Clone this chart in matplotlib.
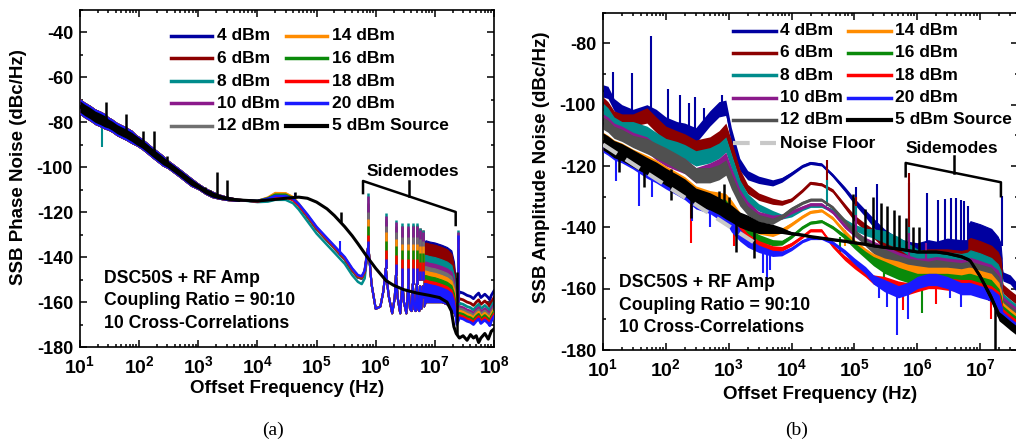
import matplotlib
matplotlib.use('Agg')
import matplotlib.pyplot as plt
from matplotlib.lines import Line2D
from matplotlib.ticker import LogLocator, NullFormatter, MultipleLocator

plt.rcParams['font.family'] = ['Liberation Sans', 'DejaVu Sans']
plt.rcParams['font.weight'] = 'bold'
plt.rcParams['axes.unicode_minus'] = False
plt.rcParams['mathtext.fontset'] = 'custom'
plt.rcParams['mathtext.rm'] = 'Liberation Sans:bold'
plt.rcParams['mathtext.it'] = 'Liberation Sans:bold'
plt.rcParams['mathtext.bf'] = 'Liberation Sans:bold'

# ---------------- series ----------------
labels = ['4 dBm', '6 dBm', '8 dBm', '10 dBm', '12 dBm', '14 dBm', '16 dBm', '18 dBm', '20 dBm']
colors_a = ['#0000a0', '#8c0000', '#008c8c', '#8b1a8b', '#707070', '#ff8c00', '#0a8a0a', '#ff0000', '#1a1aff']
colors_b = ['#0000a0', '#8c0000', '#008c8c', '#8b1a8b', '#505050', '#ff8c00', '#0a8a0a', '#ff0000', '#1a1aff']

# ---------------- (a) phase noise ----------------
# low offsets: all amplifier powers overlap
pn_low_f = [10, 12, 15, 18, 22, 26, 30, 35, 42, 50, 60, 75, 90, 110, 130, 160, 200, 250, 300, 380,
            480, 600, 750, 1000, 1300, 1700, 2200, 3000, 4000, 5000]
pn_low = [-73, -74.5, -76, -77.5, -78.5, -79.5, -80.5, -81.5, -83, -84, -85, -86.5, -88, -89.5, -91,
          -93, -95, -97, -98.5, -100.5, -102.5, -104.5, -106.5, -108.5, -110.5, -112, -113, -113.8,
          -114.3, -114.6]
pn_low_spread = [3.5, 3.5, 3.5, 3.5, 3.5, 3.5, 3, 3, 3, 3, 3, 3, 2.5, 2.5, 2.5, 2.5, 2.5, 2.5, 2, 2,
                 2, 2, 2, 1.5, 1.5, 1.5, 1.2, 1, 0.8, 0.6]
src_low_spread = [2.5, 2.5, 2.5, 2.5, 2.5, 2.5, 2, 2, 2, 2, 2, 2, 2, 1.8, 1.8, 1.8, 1.8, 1.8, 1.5, 1.5,
                  1.5, 1.5, 1.5, 1.2, 1.2, 1.2, 1, 0.8, 0.7, 0.6]

pn_mid_f = [5e3, 1e4, 1.5e4, 2e4, 3e4, 4e4, 5e4, 7e4, 1e5, 1.5e5, 2e5, 3e5, 4e5, 5e5, 5.8e5, 6.5e5, 7e5]
pn_mid = [
    [-114.6, -115.2, -114.5, -113.5, -113.2, -114.5, -117, -122, -127.5, -132.5, -136, -141, -146, -149, -149.5, -147, -141],
    [-114.6, -115.2, -114.3, -113, -113, -114.5, -117, -122, -127.5, -132.5, -136, -141, -146, -149, -149.5, -147, -141],
    [-114.6, -115.5, -115.3, -114.5, -114.5, -116, -118.8, -124, -129.5, -134.5, -138, -143, -148, -151, -152, -149.5, -142],
    [-114.6, -115.2, -114.2, -112.5, -112.3, -114, -116.8, -122, -127.5, -132.5, -136, -141, -146, -149, -149.5, -147, -141],
    [-114.6, -115, -113.7, -111.8, -111.8, -113.5, -116.5, -121.5, -127, -132, -135.5, -140.5, -145.5, -148.5, -149, -146.5, -140.5],
    [-114.6, -115, -113.5, -111.5, -111.6, -113.3, -116.3, -121.3, -126.8, -131.8, -135.3, -140.3, -145.3, -148.3, -148.8, -146.3, -140.3],
    [-114.6, -115, -113.8, -112.2, -112.2, -113.8, -116.7, -121.8, -127.3, -132.3, -135.8, -140.8, -145.8, -148.8, -149.3, -146.8, -140.8],
    [-114.6, -115.2, -114.3, -113.2, -113.2, -114.6, -117, -121.5, -127, -132, -135.5, -140.5, -145.5, -148.5, -149, -146.5, -140.5],
    [-114.6, -115, -114, -112.8, -112.8, -114, -116.3, -121, -126.5, -131.5, -135, -140, -145, -148, -148.5, -146, -140],
]

# between the sidemodes
pn_valley_f = [7.0e5, 7.5e5, 8.5e5, 1.0e6, 1.2e6, 1.35e6, 1.48e6, 1.65e6, 1.9e6, 2.1e6, 2.2e6, 2.35e6,
               2.6e6, 2.82e6, 3.0e6, 3.3e6, 3.56e6, 3.8e6, 4.05e6, 4.23e6, 4.5e6, 4.75e6, 4.94e6,
               5.2e6, 5.45e6, 5.6e6, 5.9e6, 6.24e6, 6.5e6]
pn_valley = [-140, -135, -152, -163, -162, -155, -145, -157, -165, -158, -148, -158, -165, -152, -160,
             -165, -152, -163, -164, -152, -163, -164, -152, -163, -164, -153, -163, -153, -158]

# sidemode spurs
sm_f = [7.5e5, 1.48e6, 2.2e6, 2.82e6, 3.56e6, 4.23e6, 4.94e6, 5.6e6, 6.24e6, 2.45e7]
sm_base = [-135, -145, -148, -152, -152, -152, -152, -150, -150, -160]
sm_peak = [
    [-117, -124, -127, -127, -128, -126.5, -126.5, -128, -129, -132],
    [-116, -123, -126, -126, -127, -125.5, -125.5, -127, -128, -131],
    [-111.6, -120.5, -123.5, -125, -125, -125, -125, -127, -128, -128],
    [-113, -121.5, -124.5, -126, -126, -126, -126, -128, -129, -129],
    [-120, -126, -129, -131, -131, -131, -131, -132, -133, -133],
    [-123, -129, -132, -134, -134, -134, -134, -135, -135, -134],
    [-126, -133, -135, -137, -137, -137, -137, -138, -138, -136],
    [-130, -137, -139, -141, -141, -141, -141, -142, -142, -132],
    [-133, -141, -143, -145, -145, -145, -145, -146, -146, -130],
]

# dense spur comb (appears as a band)
pn_band_f = [6.5e6, 7e6, 8e6, 1e7, 1.3e7, 1.6e7, 1.9e7, 2.1e7, 2.25e7]
pn_band_floor = [-162, -160, -160, -160, -160, -161, -163, -165, -167]
pn_band_top = [
    [-133, -132.5, -133, -133.5, -134.5, -135.5, -137, -142, -150],
    [-134, -133.5, -134, -134.5, -135.5, -136.5, -138.5, -144, -152],
    [-139, -139, -139.5, -140, -141, -142, -143.5, -148, -155],
    [-142, -142, -142.5, -143, -144, -145, -146.5, -150.5, -157],
    [-144, -144, -144.5, -145, -146, -147, -148.5, -152.5, -158],
    [-146, -146, -146.5, -147, -148, -149, -150.5, -154, -159],
    [-148, -148, -148.5, -149, -150, -151, -152.5, -156, -161],
    [-150, -150, -150.5, -151, -152, -153, -154.5, -158, -163],
    [-151.5, -151.5, -152, -152.5, -153.5, -154.5, -156, -159.5, -165],
]

pn_tail_f = [2.25e7, 2.35e7, 2.6e7, 3e7, 3.5e7, 4e7, 4.5e7, 5e7, 5.5e7, 6e7, 7e7, 8e7, 8.5e7, 9e7, 1e8]
pn_tail = [
    [-150, -160, -155.5, -156, -157, -157.5, -158.5, -157, -156, -158, -156.5, -158, -159, -157, -155],
    [-152, -162, -158.5, -159, -160, -160.5, -161.5, -160, -159, -161, -159.5, -161, -162, -160, -158],
    [-155, -164, -160.5, -161, -162, -162.5, -163.5, -162, -161, -163, -161.5, -163, -164, -162, -160],
    [-157, -165, -162, -162.5, -163.5, -164, -165, -163.5, -162.5, -164.5, -163, -164.5, -165.5, -163.5, -161.5],
    [-158, -166, -163, -163.5, -164.5, -165, -166, -164.5, -163.5, -165.5, -164, -165.5, -166.5, -164.5, -162.5],
    [-159, -167, -164, -164.5, -165.5, -166, -167, -165.5, -164.5, -166.5, -165, -166.5, -167.5, -165.5, -163.5],
    [-161, -168, -165, -165.5, -166.5, -167, -168, -166.5, -165.5, -167.5, -166, -167.5, -168.5, -166.5, -164.5],
    [-163, -169, -166, -166.5, -167.5, -168, -169, -167.5, -166.5, -168.5, -167, -168.5, -169.5, -167.5, -165.5],
    [-165, -170, -167, -167.5, -168.5, -169, -170, -168.5, -167.5, -169.5, -168, -169.5, -170.5, -168.5, -166.5],
]

# extra spurs of single traces (a)
pn20_spk_f = [4.3e4, 2.5e5]
pn20_spk_lo = [-114, -139]
pn20_spk_hi = [-111.6, -133]
pn8_spk_f = [24]
pn8_spk_lo = [-91]
pn8_spk_hi = [-78]

# 5 dBm source, phase noise
src_pn_f = [5e3, 1e4, 2e4, 3e4, 5e4, 7e4, 1e5, 1.5e5, 2e5, 3e5, 4e5, 5e5, 7e5, 1e6, 1.5e6, 2e6, 3e6,
            5e6, 8e6, 1.2e7, 1.6e7, 1.9e7, 2.1e7, 2.3e7, 2.6e7, 3e7, 3.5e7, 4e7, 4.5e7, 5e7, 5.5e7,
            6e7, 7e7, 8e7, 9e7, 1e8]
src_pn = [-114.6, -115, -114.3, -113.8, -113.3, -113.8, -115.5, -118.5, -121.5, -126.5, -130.5, -134,
          -139.5, -145, -150.5, -152.5, -154.5, -156, -157, -158, -160, -164, -171, -174, -176, -175,
          -177, -174.5, -176, -175, -178, -176, -174, -176.5, -173, -172]
src_pn_spk_f = [28, 60, 115, 178, 300, 1.3e3, 1.6e3, 2.1e3, 3.1e3, 4.3e4, 2.56e5, 2.4e7]
src_pn_spk_lo = [-80, -85, -89.5, -94, -98.5, -110.5, -112, -112.8, -113.8, -113.3, -124.5, -174]
src_pn_spk_hi = [-71, -76.5, -84, -84, -95, -109, -110, -102, -105.7, -110.9, -120, -146.5]

# ---------------- (b) amplitude noise ----------------
am_f = [10, 12, 15, 20, 30, 50, 70, 100, 150, 200,
        300, 500, 700, 900, 1100, 1500, 2000, 3000, 5000, 7000,
        1e4, 1.5e4, 2e4, 3e4, 4.5e4, 7e4, 1e5, 1.5e5, 2e5, 3e5,
        5e5, 7e5, 1e6, 1.5e6, 2e6, 3e6, 5e6, 6.5e6, 7e6, 1e7,
        1.5e7, 2e7, 2.3e7, 3e7, 4e7]
am_spread = [2, 2, 2, 2, 2, 2.5, 2.5, 2.5, 2.5, 2.5,
             2.5, 2.5, 2.5, 2.5, 2.5, 2, 1.5, 1.2, 1, 0.8,
             0.6, 0.5, 0.5, 0.5, 0.6, 0.8, 1, 1.2, 1.5, 2,
             2, 2, 2, 2, 2, 2, 2, 2, 2, 2,
             2, 2, 1.5, 1.5, 1.5]
src_am_spread = [2.8, 2.8, 2.8, 2.8, 2.8, 2.8, 2.8, 2.8, 2.8, 2.8,
                 2.8, 2.8, 2.8, 2.8, 2.8, 2.5, 2.5, 2, 1.5, 1,
                 0.5, 0.4, 0.4, 0.4, 0.4, 0.4, 0.4, 0.4, 0.4, 0.4,
                 0.4, 0.4, 0.4, 0.4, 0.4, 0.4, 0.5, 0.5, 0.5, 0.8,
                 1.2, 1.5, 1.5, 1.5, 1.5]
am = [
    [-95.5, -96, -100, -102, -103.5, -102.5, -104, -106.5, -108, -108.5,
     -110, -104.5, -101.5, -101, -110, -119.5, -123, -124.5, -125.5, -124.5,
     -122.5, -120, -119, -119.5, -123, -127.5, -131.5, -135.5, -138.5, -142.5,
     -145.5, -146.5, -147, -146, -146.5, -145.5, -146, -146, -141, -141.5,
     -142.5, -146, -156, -157, -160],
    [-99.5, -101, -104, -105, -105, -103.5, -106.5, -109.5, -111, -112,
     -114, -113, -111, -108.5, -114, -123, -127.5, -130, -131.5, -132,
     -131, -128, -125.5, -126, -128, -133, -137, -140, -142, -145,
     -148, -149, -149.5, -149, -149, -149, -149.5, -149, -146, -147,
     -148, -151, -160, -162, -164],
    [-101.5, -103, -106, -107.5, -107.5, -109.5, -111.5, -113.5, -114.5, -115.5,
     -117.5, -116.5, -115, -113, -118.5, -126.5, -130.5, -133.5, -135.5, -136.5,
     -136, -134, -133, -133, -134.5, -138, -140, -141.5, -142, -143,
     -145, -147, -149, -150, -150, -150, -150.5, -150, -150, -151,
     -152, -155, -163, -165, -167],
    [-105, -106, -108, -109, -111, -113, -115.5, -117.5, -119, -120,
     -123, -121.5, -120, -118, -123, -129.5, -133, -136, -137, -136.5,
     -135, -133.5, -132.5, -132.5, -135, -139.5, -142, -144.5, -146, -148,
     -150, -151, -152, -152, -151.5, -152, -152.5, -152, -152, -153,
     -154, -157, -164, -166, -168],
    [-106, -107, -109, -110, -112, -113.5, -115, -116.5, -118.5, -120,
     -123, -123, -122, -120.5, -125, -131, -134.5, -137, -138, -136.5,
     -134, -132, -131, -131, -133.5, -138, -141.5, -145, -147, -149,
     -151, -152, -152.5, -153, -152.5, -153, -153.5, -153, -153, -154,
     -155, -158, -165, -167, -169],
    [-111, -112, -113.5, -114.5, -116.5, -119, -120.5, -122.5, -124.5, -126,
     -129, -130.5, -131, -131.5, -133.5, -137, -139, -141, -142, -141,
     -139, -136.5, -135, -134.5, -137, -141.5, -145, -148, -150, -152,
     -153, -154, -154.5, -155, -155, -155, -155.5, -155, -155, -156,
     -157, -160, -166, -168, -170],
    [-112.5, -113.5, -115, -116, -118, -120.5, -122, -124, -126, -127.5,
     -130.5, -132, -133, -133.5, -136, -139, -141.5, -143.5, -145, -145,
     -143, -140, -138.5, -138, -140, -143, -146, -149, -151, -153,
     -155, -156, -157, -157, -157, -157, -157.5, -157, -157, -158,
     -159, -162, -167, -169, -171],
    [-113, -114, -115.5, -116.5, -118.5, -121, -122.5, -124.5, -126.5, -128,
     -131, -132.5, -134, -135, -137.5, -141, -143.5, -145.5, -147, -147,
     -145.5, -143, -141, -141, -146, -150, -152.5, -155, -157, -158,
     -159.5, -160, -159, -158, -158, -158.5, -159, -159, -159, -160,
     -161, -163, -168, -170, -172],
    [-113.5, -114.5, -116, -117, -119, -121.5, -123, -125, -127, -128.5,
     -131.5, -133, -135, -136, -139, -142.5, -145, -147, -148.5, -148.5,
     -147, -144.5, -143.5, -143.5, -145, -148, -151, -154, -157, -159,
     -161, -160, -158, -157, -157, -158, -160, -160, -160, -161,
     -162, -164, -169, -171, -173],
]
src_am = [-112, -113, -114.5, -115.5, -117.5, -120, -121.5, -123.5, -125.5, -127,
          -130, -131.5, -133, -134.5, -135.5, -137.5, -138.5, -140, -140.5, -141,
          -142, -142.5, -143, -143.5, -144, -144.5, -145, -145.5, -146, -146.5,
          -147, -147.5, -148, -148, -148, -148.5, -149.5, -150.5, -151, -156,
          -163, -169, -170, -172, -174]

am_band_f = [6.5e6, 7e6, 1e7, 1.5e7, 1.9e7, 2.1e7, 2.2e7]
am_band_floor = [-158, -160, -162, -164, -166, -168, -170]
am_band_top = [
    [-139, -138, -139, -140.5, -143, -145, -150],
    [-144, -143.5, -144.5, -146, -148, -150, -154],
    [-148, -147.5, -148.5, -150, -152, -154, -157],
    [-150.5, -150, -151, -152.5, -154, -156, -159],
    [-152.5, -152.5, -153.5, -155, -156.5, -158, -160],
    [-155, -154.5, -155.5, -157, -158.5, -160, -162],
    [-157, -156.5, -157.5, -159, -160.5, -162, -164],
    [-158.5, -158, -159, -160.5, -162, -163.5, -165],
    [-160, -159.5, -160.5, -162, -163.5, -165, -166],
]

# spurs and dips of single traces (b)
am4_spk_f = [14.6, 29, 58, 110, 168, 236, 291, 400, 770, 1.05e5, 2.3e5, 7.3e5, 1.41e6, 2.1e6, 2.8e6,
             3.5e6, 4.2e6, 4.9e6, 5.6e6, 6.3e6, 2.24e7]
am4_spk_lo = [-100, -103, -102, -106, -108, -109, -109, -107, -101, -131, -140, -146, -146, -146, -146,
              -146, -146, -146, -146, -146, -146]
am4_spk_hi = [-89.2, -89.6, -77.5, -95, -96.7, -99.3, -97.5, -101, -97, -127, -126, -125.5, -128.8,
              -131, -130.9, -130.5, -130.5, -131, -131.5, -133, -129.8]
am6_spk_f = [3.6e4, 1.07e5, 7.3e5]
am6_spk_lo = [-126, -137, -149]
am6_spk_hi = [-118, -130, -122.2]
am8_spk_f = [3.7e4, 1.05e5, 2e5, 7.3e5]
am8_spk_lo = [-133, -140, -142, -147]
am8_spk_hi = [-124.5, -133, -137, -140]
am10_spk_f = [1.05e5, 7.3e5, 1.4e6]
am10_spk_lo = [-142, -151, -152]
am10_spk_hi = [-136, -142, -145]
am14_spk_f = [7e4, 3e5, 2.5e6]
am14_spk_lo = [-146, -158, -160]
am14_spk_hi = [-141, -152, -155]
am16_spk_f = [6e4, 3e5, 1.2e6]
am16_spk_lo = [-148, -160, -168]
am16_spk_hi = [-143, -153, -157]
am18_spk_f = [250, 1.2e3, 6e5, 2e6, 1.5e7]
am18_spk_lo = [-145, -146, -167, -165, -170]
am18_spk_hi = [-130, -137, -160, -158, -161]
am20_spk_f = [16, 38, 60, 260, 500, 3.5e3, 4e3, 4.5e3, 2.5e5, 3.3e5, 4.8e5, 7e5, 3.3e6, 5e6]
am20_spk_lo = [-125, -133, -130, -138, -140, -155, -157, -154, -163, -166, -175, -170, -163, -166]
am20_spk_hi = [-117, -121, -123, -131, -134, -147, -148, -148, -157, -159, -160, -160, -158, -160]
src_am_spk_f = [18, 45, 120, 250, 700, 850, 1e3, 1.3e3, 2.5e3, 9.6e4, 1.45e5, 2e5, 2.6e5, 3.3e5,
                4.2e5, 5.2e5, 6.5e5, 8.5e5, 1.05e6, 1.7e7]
src_am_spk_lo = [-122, -127, -131, -137, -133, -134, -135, -148, -150, -145, -145.5, -146, -146,
                 -146.5, -147, -147, -147.5, -148, -148, -181]
src_am_spk_hi = [-114, -117, -121, -128, -128, -126, -130, -137, -139, -129, -134, -130, -132, -133,
                 -134.5, -136, -137, -140, -140, -166]

noise_floor_f = [10, 2800]
noise_floor = [-113, -145.5]

# ---------------- figure ----------------
W, H = 1016, 440
fig = plt.figure(figsize=(W / 100, H / 100), dpi=100)
axL = fig.add_axes([80 / W, 1 - 347 / H, 414 / W, 337 / H])
axR = fig.add_axes([603 / W, 1 - 350 / H, 415 / W, 337.3 / H])

# (a)
for i in range(9):
    c = colors_a[i]
    z = 2 + i * 0.1
    lo = [v - s for v, s in zip(pn_low, pn_low_spread)]
    hi = [v + s for v, s in zip(pn_low, pn_low_spread)]
    axL.fill_between(pn_low_f, lo, hi, color=c, lw=0, zorder=z)
    axL.plot(pn_mid_f, pn_mid[i], color=c, lw=1.8, zorder=z)
    axL.plot(pn_valley_f, pn_valley, color=c, lw=1.5, zorder=z)
    axL.vlines(sm_f, sm_base, sm_peak[i], color=c, lw=1.8, zorder=z)
    axL.fill_between(pn_band_f, pn_band_floor, pn_band_top[i], color=c, lw=0.8, zorder=z)
    axL.plot(pn_tail_f, pn_tail[i], color=c, lw=2.0, zorder=z)
    if i == 2:
        axL.vlines(pn8_spk_f, pn8_spk_lo, pn8_spk_hi, color=c, lw=1.5, zorder=z)
    if i == 8:
        axL.vlines(pn20_spk_f, pn20_spk_lo, pn20_spk_hi, color=c, lw=1.5, zorder=z)

lo = [v - s for v, s in zip(pn_low, src_low_spread)]
hi = [v + s for v, s in zip(pn_low, src_low_spread)]
axL.fill_between(pn_low_f, lo, hi, color='black', lw=0, zorder=4)
axL.plot(pn_low_f + src_pn_f, pn_low + src_pn, color='black', lw=2.2, zorder=4)
axL.vlines(src_pn_spk_f, src_pn_spk_lo, src_pn_spk_hi, color='black', lw=1.8, zorder=4)

# (b)
am_spikes = {0: (am4_spk_f, am4_spk_lo, am4_spk_hi), 1: (am6_spk_f, am6_spk_lo, am6_spk_hi),
             2: (am8_spk_f, am8_spk_lo, am8_spk_hi), 3: (am10_spk_f, am10_spk_lo, am10_spk_hi),
             5: (am14_spk_f, am14_spk_lo, am14_spk_hi), 6: (am16_spk_f, am16_spk_lo, am16_spk_hi),
             7: (am18_spk_f, am18_spk_lo, am18_spk_hi), 8: (am20_spk_f, am20_spk_lo, am20_spk_hi)}
for i in range(9):
    c = colors_b[i]
    z = 2 + i * 0.1
    lo = [v - s for v, s in zip(am[i], am_spread)]
    hi = [v + s for v, s in zip(am[i], am_spread)]
    axR.fill_between(am_f, lo, hi, color=c, lw=0, zorder=z)
    axR.plot(am_f, am[i], color=c, lw=1.5, zorder=z)
    axR.fill_between(am_band_f, am_band_floor, am_band_top[i], color=c, lw=0.8, zorder=z)
    if i in am_spikes:
        f, a, b = am_spikes[i]
        axR.vlines(f, a, b, color=c, lw=1.5, zorder=z)

lo = [v - s for v, s in zip(src_am, src_am_spread)]
hi = [v + s for v, s in zip(src_am, src_am_spread)]
axR.fill_between(am_f, lo, hi, color='black', lw=0, zorder=4)
axR.plot(am_f, src_am, color='black', lw=2.2, zorder=4)
axR.vlines(src_am_spk_f, src_am_spk_lo, src_am_spk_hi, color='black', lw=1.8, zorder=4)
axR.plot(noise_floor_f, noise_floor, color='#c8c8c8', lw=3, dashes=(4, 2.5), zorder=5)

# axes styling
for ax, ylim, yticks, xmax, xt in [(axL, (-180, -30), range(-180, -39, 20), 1e8, range(1, 9)),
                                   (axR, (-180, -70), range(-180, -79, 20), 4e7, range(1, 8))]:
    ax.set_xscale('log')
    ax.set_xlim(10, xmax)
    ax.set_ylim(*ylim)
    ax.set_yticks(list(yticks))
    ax.yaxis.set_minor_locator(MultipleLocator(10))
    ax.set_xticks([10.0 ** k for k in xt])
    ax.set_xticklabels([r'$10^{%d}$' % k for k in xt])
    ax.xaxis.set_minor_locator(LogLocator(base=10, subs=range(2, 10), numticks=20))
    ax.xaxis.set_minor_formatter(NullFormatter())
    ax.tick_params(which='both', direction='in', top=True, right=True, width=1.1)
    ax.tick_params(which='major', length=5, labelsize=13, pad=5)
    ax.tick_params(which='minor', length=2.5)
    ax.tick_params(axis='x', which='major', pad=6, labelsize=14)
    for s in ax.spines.values():
        s.set_linewidth(1.2)
    for t in ax.get_yticklabels():
        t.set_fontweight('bold')
    ax.set_xlabel('Offset Frequency (Hz)', fontsize=13.5, fontweight='bold')

axL.set_ylabel('SSB Phase Noise (dBc/Hz)', fontsize=13.5, fontweight='bold')
axR.set_ylabel('SSB Amplitude Noise (dBc/Hz)', fontsize=13.5, fontweight='bold')
axL.yaxis.set_label_coords(-0.128, 0.534)
axR.yaxis.set_label_coords(-0.128, 0.543)
axL.xaxis.set_label_coords(0.501, -0.098)
axR.xaxis.set_label_coords(0.523, -0.107)

# sidemode brackets
axL.plot([6.1e5, 6.1e5, 2.25e7, 2.25e7], [-111.5, -106.1, -119.9, -125.7], color='black', lw=1.8, zorder=6)
axL.plot([3.66e6, 3.66e6], [-106.1, -113.0], color='black', lw=1.8, zorder=6)
axR.plot([6.53e5, 6.53e5, 2.14e7, 2.14e7], [-123.35, -119.0, -125.3, -129.85], color='black', lw=1.8, zorder=6)
axR.plot([3.86e6, 3.86e6], [-116.8, -122.2], color='black', lw=1.8, zorder=6)


def fx(x):
    return x / W


def fy(y):
    return 1 - y / H


fig.text(fx(413), fy(171), 'Sidemodes', fontsize=12.5, fontweight='bold', ha='center', va='center')
fig.text(fx(951.7), fy(148.3), 'Sidemodes', fontsize=12.5, fontweight='bold', ha='center', va='center')

for x0, ys in [(104, (278, 300.7, 323)), (619.3, (282.7, 305, 327.7))]:
    for y, s in zip(ys, ['DSC50S + RF Amp', 'Coupling Ratio = 90:10', '10 Cross-Correlations']):
        fig.text(fx(x0), fy(y), s, fontsize=12.7, fontweight='bold', ha='left', va='center')


# legends (drawn by hand to match the two-column layout)
def entry(x0, x1, xt, y, color, label, lw=2.5, dashes=None):
    ln = Line2D([fx(x0), fx(x1)], [fy(y), fy(y)], color=color, lw=lw, transform=fig.transFigure)
    if dashes:
        ln.set_dashes(dashes)
    fig.add_artist(ln)
    fig.text(fx(xt), fy(y), label, fontsize=12.5, fontweight='bold', ha='left', va='center')


rows_a = [35.7, 58.3, 81, 103.3, 126]
rows_b = [30.7, 52.7, 75.3, 97.7, 120, 143.3]
for k in range(5):
    entry(171, 212, 217, rows_a[k], colors_a[k], labels[k])
    entry(286, 327, 332, rows_a[k], colors_a[k + 5] if k < 4 else 'black',
          labels[k + 5] if k < 4 else '5 dBm Source', lw=2.5 if k < 4 else 3)
    entry(733, 776, 780, rows_b[k], colors_b[k], labels[k])
    entry(848, 891, 895, rows_b[k], colors_b[k + 5] if k < 4 else 'black',
          labels[k + 5] if k < 4 else '5 dBm Source', lw=2.5 if k < 4 else 3)
entry(733, 776, 780, rows_b[5], '#c8c8c8', 'Noise Floor', lw=3, dashes=(4, 2.5))

fig.text(fx(273), fy(430), '(a)', fontsize=14, family='Liberation Serif', fontweight='normal',
         ha='center', va='center')
fig.text(fx(797), fy(430), '(b)', fontsize=14, family='Liberation Serif', fontweight='normal',
         ha='center', va='center')

fig.savefig('out.png', dpi=100)
